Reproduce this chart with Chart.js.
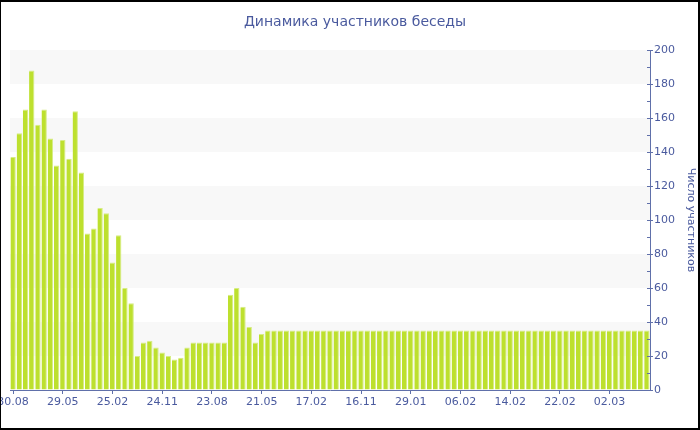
<!DOCTYPE html>
<html>
<head>
<meta charset="utf-8">
<script src="https://cdn.jsdelivr.net/npm/chart.js@4"></script>
<style>
    body { margin: 0; background: #fff; }
    #wrap { position: relative; width: 700px; height: 430px; }
    #chart { position: absolute; left: 0; top: 0; }
    #frame {
        position: absolute; left: 0; top: 0; width: 700px; height: 430px;
        box-sizing: border-box; pointer-events: none;
        border: 2px solid #000; border-left-width: 1px;
    }
</style>
</head>
<body>
<div id="wrap">
    <canvas id="chart" width="700" height="430"></canvas>
    <div id="frame"></div>
</div>
<script>
// Tick labels shown under every 8th bar
const tickLabels = ['30.08', '29.05', '25.02', '24.11', '23.08', '21.05', '17.02',
    '16.11', '29.01', '06.02', '14.02', '22.02', '02.03'];
const labelStep = 8;

// Number of chat participants, one value per bar
const participants = [
    137, 151, 165, 188, 156, 165, 148, 132, 147, 136, 164, 128,
    92, 95, 107, 104, 75, 91, 60, 51,
    20, 28, 29, 25, 22, 20, 18, 19, 25,
    28, 28, 28, 28, 28, 28,
    56, 60, 49, 37, 28, 33, 35,
    35, 35, 35, 35, 35, 35, 35, 35, 35, 35,
    35, 35, 35, 35, 35, 35, 35, 35, 35, 35,
    35, 35, 35, 35, 35, 35, 35, 35, 35, 35,
    35, 35, 35, 35, 35, 35, 35, 35, 35, 35,
    35, 35, 35, 35, 35, 35, 35, 35, 35, 35,
    35, 35, 35, 35, 35, 35, 35, 35, 35, 35,
    35
];

const textColor = '#4a5a9e';
const axisColor = '#6070aa';
const fontFamily = '"DejaVu Sans", Verdana, sans-serif';

// category label is the date for every 8th bar, empty otherwise
const categories = participants.map((v, i) =>
    i % labelStep === 0 ? (tickLabels[i / labelStep] || '') : '');

// alternating light bands behind the bars (20-40, 60-80, ...)
const bandsPlugin = {
    id: 'bands',
    beforeDatasetsDraw(chart) {
        const { ctx, chartArea, scales: { y } } = chart;
        ctx.save();
        ctx.fillStyle = '#f8f8f8';
        y.ticks.forEach(t => {
            if (t.value % 40 === 20 && t.value + 20 <= y.max) {
                const top = y.getPixelForValue(t.value + 20);
                const bottom = y.getPixelForValue(t.value);
                ctx.fillRect(chartArea.left, top, chartArea.right - chartArea.left, bottom - top);
            }
        });
        ctx.restore();
    }
};

// y tick marks: major ones cross the axis, minor ones only inside
const yTicksPlugin = {
    id: 'yTicks',
    afterDraw(chart) {
        const { ctx, scales: { y } } = chart;
        const x = y.left;
        ctx.save();
        ctx.strokeStyle = axisColor;
        ctx.lineWidth = 1;
        ctx.beginPath();
        y.ticks.forEach(t => {
            const py = Math.round(y.getPixelForValue(t.value)) + 0.5;
            const major = t.value % 20 === 0;
            ctx.moveTo(x - 3, py);
            ctx.lineTo(major ? x + 3 : x, py);
        });
        ctx.stroke();
        ctx.restore();
    }
};

new Chart(document.getElementById('chart'), {
    type: 'bar',
    data: {
        labels: categories,
        datasets: [{
            data: participants,
            backgroundColor: '#bde02e',
            borderColor: '#d6ec85',
            borderWidth: { top: 1, right: 1, left: 0, bottom: 0 },
            borderSkipped: false,
            barPercentage: 0.86,
            categoryPercentage: 1.0
        }]
    },
    options: {
        responsive: false,
        animation: false,
        layout: { padding: { left: 10, right: 0, top: 0, bottom: 0 } },
        plugins: {
            legend: { display: false },
            tooltip: { enabled: false },
            title: {
                display: true,
                text: 'Динамика участников беседы',
                color: textColor,
                font: { family: fontFamily, size: 14, weight: 'normal', lineHeight: 1.2 },
                padding: { top: 14, bottom: 19.2 }
            }
        },
        scales: {
            x: {
                grid: {
                    display: true,
                    drawOnChartArea: false,
                    drawTicks: true,
                    tickLength: 4,
                    offset: false,
                    tickColor: (c) => categories[c.index] ? axisColor : 'rgba(0,0,0,0)'
                },
                border: { display: true, color: axisColor, width: 1 },
                ticks: {
                    autoSkip: false,
                    maxRotation: 0,
                    padding: 2,
                    color: textColor,
                    font: { family: fontFamily, size: 11 }
                },
                afterFit(scale) {
                    scale.height = 40;
                    scale.paddingLeft = 0;
                    scale.paddingRight = 0;
                }
            },
            y: {
                position: 'right',
                min: 0,
                max: 200,
                grid: { display: true, drawOnChartArea: false, drawTicks: false },
                border: { display: true, color: axisColor, width: 1 },
                ticks: {
                    stepSize: 10,
                    padding: 4,
                    color: textColor,
                    font: { family: fontFamily, size: 11 },
                    callback: (v) => v % 20 === 0 ? v : ''
                },
                title: {
                    display: true,
                    text: 'Число участников',
                    color: textColor,
                    font: { family: fontFamily, size: 11, lineHeight: 1.2 },
                    padding: { top: 3, bottom: 0 }
                },
                afterFit(scale) {
                    scale.width = 50;
                    scale.paddingTop = 0;
                    scale.paddingBottom = 0;
                }
            }
        }
    },
    plugins: [bandsPlugin, yTicksPlugin]
});
</script>
</body>
</html>
